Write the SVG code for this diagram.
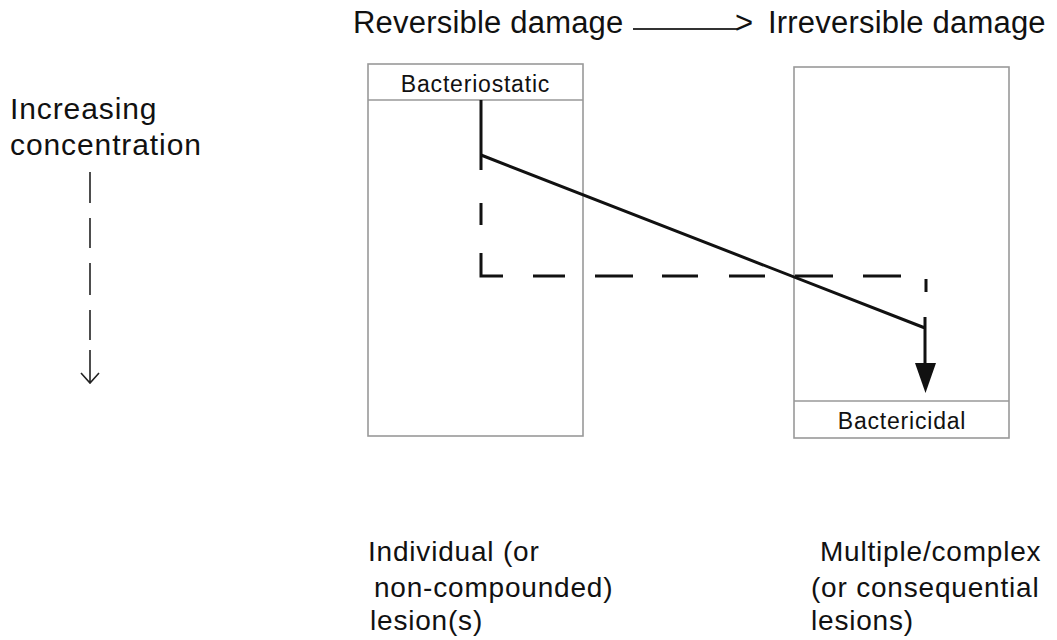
<svg xmlns="http://www.w3.org/2000/svg" width="1057" height="640" viewBox="0 0 1057 640">
<style>
.t{font-family:"Liberation Sans",Arial,sans-serif;fill:#111}
.big{font-size:31px;letter-spacing:0.2px}
.conc{font-size:30px;letter-spacing:0.9px}
.mid{font-size:28px;letter-spacing:0.8px}
.lab{font-size:23px;letter-spacing:0.8px}
.box{fill:#fff;stroke:#999;stroke-width:1.6}
.sep{stroke:#999;stroke-width:1.4}
.main{stroke:#111;stroke-width:3;fill:none}
.thin{stroke:#222;stroke-width:1.6;fill:none}
</style>
<rect width="1057" height="640" fill="#fff"/>
<g id="header">
<text class="t big" x="353" y="33">Reversible damage</text>
<line x1="633" y1="29" x2="738" y2="29" stroke="#333" stroke-width="2"/>
<text class="t big" x="735" y="33">&gt;</text>
<text class="t big" x="768" y="33">Irreversible damage</text>
</g>
<g id="concentration">
<text class="t conc" x="10" y="119">Increasing</text>
<text class="t conc" x="10" y="155">concentration</text>
<path class="thin" d="M90 172V203M90 218V248M90 263V295M90 310V340M90 350V383M81 373L90 383L99 373"/>
</g>
<g id="bacteriostatic">
<rect class="box" x="368" y="64" width="215" height="372"/>
<line class="sep" x1="368" y1="100" x2="583" y2="100"/>
<text class="t lab" x="475.5" y="92" text-anchor="middle">Bacteriostatic</text>
</g>
<g id="bactericidal">
<rect class="box" x="794" y="67" width="215" height="371"/>
<line class="sep" x1="794" y1="401" x2="1009" y2="401"/>
<text class="t lab" x="902" y="429" text-anchor="middle">Bactericidal</text>
</g>
<g id="connectors">
<path class="main" d="M481 100V170M481 203V225M481 253V276H503M533 276H565M595 276H633M662 276H698M729 276H765M795 276H833M863 276H901M926 279V292"/>
<path class="main" d="M481 155L925 328M925 317V366"/>
<polygon points="915,363 936,363 925.5,393" fill="#111"/>
</g>
<g id="left-caption">
<text class="t mid" x="368" y="561">Individual (or</text>
<text class="t mid" x="374" y="597">non-compounded)</text>
<text class="t mid" x="370" y="630">lesion(s)</text>
</g>
<g id="right-caption">
<text class="t mid" x="820" y="561">Multiple/complex</text>
<text class="t mid" x="811" y="597">(or consequential</text>
<text class="t mid" x="811" y="630">lesions)</text>
</g>
</svg>
